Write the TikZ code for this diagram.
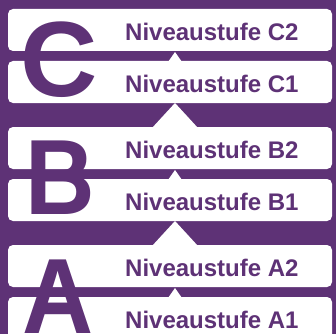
\documentclass[tikz,border=0pt]{standalone}
\usepackage{fontspec}
\setmainfont{Liberation Sans}
\definecolor{niveau}{RGB}{94,50,118}
\begin{document}
\begin{tikzpicture}[x=1pt,y=-1pt,
  panel/.style={fill=white, rounded corners=5pt},
  notch/.style={fill=white},
  levelname/.style={anchor=base west, inner sep=0pt, text=niveau,
    font=\fontsize{24}{24}\selectfont\bfseries},
  bigletter/.style={anchor=base west, inner sep=0pt, text=niveau,
    font=\fontsize{107}{107}\selectfont\bfseries}]
% background
\fill[niveau] (0,0) rectangle (336,334);
\useasboundingbox (0,0) rectangle (336,334);
\begin{scope}
\clip (0,0) rectangle (336,334);
% level panels (top edge y, height 42)
\foreach \t in {9,61,127,179,245,297}
  \fill[panel] (8,\t) rectangle (332,\t+42);
% small arrows inside each pair
\foreach \t in {61,179,297}
  \fill[notch] (168,\t+1) -- (175,\t-9) -- (182,\t+1) -- cycle;
% large arrows between groups
\foreach \t in {127,245}
  \fill[notch] (152,\t+1) -- (175,\t-24) -- (198,\t+1) -- cycle;
% level names
\node[levelname] (c2) at (125,40.5) {Niveaustufe C2};
\node[levelname] (c1) at (125,92.5) {Niveaustufe C1};
\node[levelname] (b2) at (125,158.5) {Niveaustufe B2};
\node[levelname] (b1) at (125,210.5) {Niveaustufe B1};
\node[levelname] (a2) at (125,276.5) {Niveaustufe A2};
\node[levelname] (a1) at (125,328.5) {Niveaustufe A1};
% group letters
\node[bigletter] (gc) at (20,96) {C};
\node[bigletter] (gb) at (25,214) {\scalebox{0.9}[1]{B}};
\node[bigletter] (ga) at (22,333) {\scalebox{0.92}[1]{A}};
\end{scope}
\end{tikzpicture}
\end{document}
